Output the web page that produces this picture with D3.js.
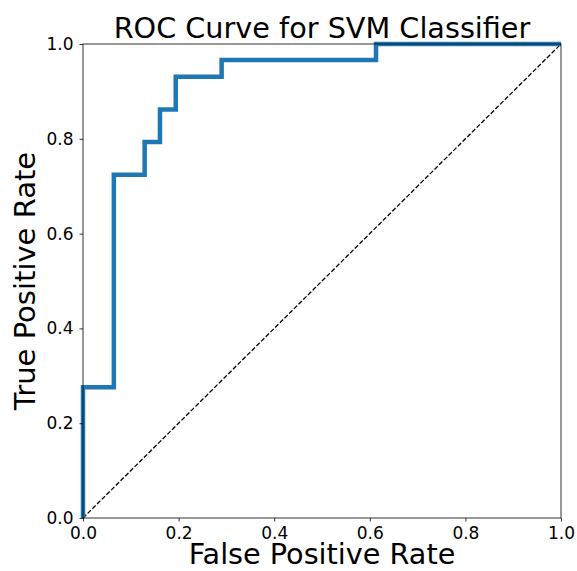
<!DOCTYPE html>
<html>
<head>
<meta charset="utf-8">
<script src="https://cdn.jsdelivr.net/npm/d3@7"></script>
<style>
    body { margin: 0; background: #fff; }
    text { font-family: "DejaVu Sans", sans-serif; fill: #000; }
</style>
</head>
<body>
<svg id="chart" width="577" height="571"></svg>
<script>
// ROC curve points (false positive rate, true positive rate)
var fpr = [0, 0, 0.0645, 0.0645, 0.129, 0.129, 0.161, 0.161, 0.194, 0.194, 0.290, 0.290, 0.613, 0.613, 1.0];
var tpr = [0, 0.276, 0.276, 0.724, 0.724, 0.793, 0.793, 0.862, 0.862, 0.931, 0.931, 0.966, 0.966, 1.0, 1.0];
var chanceLine = [0, 1];
var tickValues = [0, 0.2, 0.4, 0.6, 0.8, 1.0];

var margin = {top: 44, right: 16, bottom: 53, left: 83};
var svg = d3.select('#chart');
var width = 577 - margin.left - margin.right;
var height = 571 - margin.top - margin.bottom;

var x = d3.scaleLinear().domain([0, 1]).range([0, width]);
var y = d3.scaleLinear().domain([0, 1]).range([height, 0]);

var g = svg.append('g').attr('transform', 'translate(' + margin.left + ',' + margin.top + ')');

// diagonal reference line
g.append('path')
    .datum(chanceLine)
    .attr('d', d3.line().x(function(d) { return x(d); }).y(function(d) { return y(d); }))
    .attr('fill', 'none')
    .attr('stroke', '#000')
    .attr('stroke-width', 1.3)
    .attr('stroke-dasharray', '4.6,2');

// roc curve
var points = fpr.map(function(f, i) { return [f, tpr[i]]; });
g.append('path')
    .datum(points)
    .attr('d', d3.line().x(function(d) { return x(d[0]); }).y(function(d) { return y(d[1]); }))
    .attr('fill', 'none')
    .attr('stroke', '#1f77b4')
    .attr('stroke-width', 4.5)
    .attr('stroke-linejoin', 'miter')
    .attr('stroke-linecap', 'butt');

var fmt = d3.format('.1f');

var xAxis = g.append('g')
    .attr('transform', 'translate(0,' + height + ')')
    .call(d3.axisBottom(x).tickValues(tickValues).tickFormat(fmt).tickSizeInner(3.5).tickSizeOuter(0).tickPadding(5));

var yAxis = g.append('g')
    .call(d3.axisLeft(y).tickValues(tickValues).tickFormat(fmt).tickSizeInner(3.5).tickSizeOuter(0).tickPadding(6));

[xAxis, yAxis].forEach(function(a) {
    a.select('.domain').remove();
    a.selectAll('.tick line').attr('stroke', '#000').attr('stroke-width', 0.8);
    a.selectAll('.tick text').style('font-size', '17px').attr('fill', '#000');
});

// frame
g.append('rect')
    .attr('width', width)
    .attr('height', height)
    .attr('fill', 'none')
    .attr('stroke', '#000')
    .attr('stroke-width', 0.8);

// title and labels
svg.append('text')
    .attr('x', margin.left + width / 2)
    .attr('y', 38)
    .attr('text-anchor', 'middle')
    .style('font-size', '28.7px')
    .text('ROC Curve for SVM Classifier');

svg.append('text')
    .attr('x', margin.left + width / 2)
    .attr('y', 564)
    .attr('text-anchor', 'middle')
    .style('font-size', '28.7px')
    .text('False Positive Rate');

svg.append('text')
    .attr('transform', 'translate(35,' + (margin.top + height / 2) + ') rotate(-90)')
    .attr('text-anchor', 'middle')
    .style('font-size', '29px')
    .text('True Positive Rate');
</script>
</body>
</html>
